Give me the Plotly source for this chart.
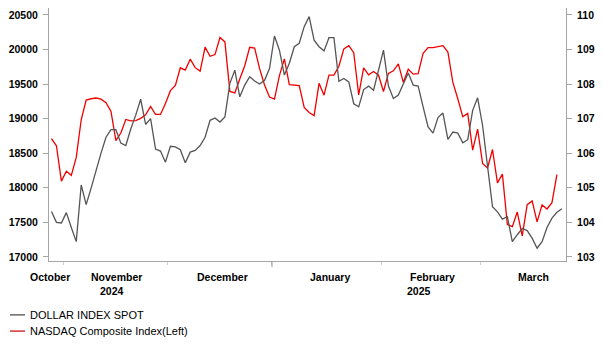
import plotly.graph_objects as go

# ---------------- data ----------------
dates = [
    "2024-10-29", "2024-10-30", "2024-10-31",
    "2024-11-01", "2024-11-04", "2024-11-05", "2024-11-06", "2024-11-07", "2024-11-08",
    "2024-11-11", "2024-11-12", "2024-11-13", "2024-11-14", "2024-11-15",
    "2024-11-18", "2024-11-19", "2024-11-20", "2024-11-21", "2024-11-22",
    "2024-11-25", "2024-11-26", "2024-11-27", "2024-11-28", "2024-11-29",
    "2024-12-02", "2024-12-03", "2024-12-04", "2024-12-05", "2024-12-06",
    "2024-12-09", "2024-12-10", "2024-12-11", "2024-12-12", "2024-12-13",
    "2024-12-16", "2024-12-17", "2024-12-18", "2024-12-19", "2024-12-20",
    "2024-12-23", "2024-12-24", "2024-12-26", "2024-12-27",
    "2024-12-30", "2024-12-31", "2025-01-02", "2025-01-03",
    "2025-01-06", "2025-01-07", "2025-01-08", "2025-01-09", "2025-01-10",
    "2025-01-13", "2025-01-14", "2025-01-15", "2025-01-16", "2025-01-17",
    "2025-01-20", "2025-01-21", "2025-01-22", "2025-01-23", "2025-01-24",
    "2025-01-27", "2025-01-28", "2025-01-29", "2025-01-30", "2025-01-31",
    "2025-02-03", "2025-02-04", "2025-02-05", "2025-02-06", "2025-02-07",
    "2025-02-10", "2025-02-11", "2025-02-12", "2025-02-13", "2025-02-14",
    "2025-02-17", "2025-02-18", "2025-02-19", "2025-02-20", "2025-02-21",
    "2025-02-24", "2025-02-25", "2025-02-26", "2025-02-27", "2025-02-28",
    "2025-03-03", "2025-03-04", "2025-03-05", "2025-03-06", "2025-03-07",
    "2025-03-10", "2025-03-11", "2025-03-12", "2025-03-13", "2025-03-14",
    "2025-03-17", "2025-03-18", "2025-03-19", "2025-03-20", "2025-03-21",
    "2025-03-24", "2025-03-25",
]

nasdaq = [
    18712, 18607, 18095,
    18239, 18179, 18439, 18983, 19269, 19287,
    19298, 19281, 19231, 19107, 18680,
    18792, 18988, 18967, 18972, 19004,
    19054, 19175, 19060, 19060, 19218,
    19404, 19481, 19735, 19701, 19860,
    19737, 19687, 20034, 19902, 19926,
    20173, 20109, 19393, 19372, 19573,
    19764, 20031, 20020, 19722,
    19487, 19311, 19281, 19622,
    19865, 19490, 19479, 19479, 19162,
    19088, 19044, 19511, 19339, 19630,
    19630, 19757, 20009, 20054, 19954,
    19342, 19734, 19632, 19681, 19627,
    19392, 19654, 19692, 19791, 19523,
    19714, 19643, 19649, 19946, 20027,
    20027, 20041, 20056, 19962, 19524,
    19287, 19026, 19075, 18544, 18847,
    18350, 18285, 18553, 18070, 18196,
    17468, 17437, 17648, 17303, 17754,
    17809, 17505, 17751, 17692, 17784,
    18189, None,
]

dollar_index = [
    104.31, 104.00, 103.98,
    104.28, 103.85, 103.44, 105.08, 104.51, 104.99,
    105.52, 106.00, 106.46, 106.68, 106.68,
    106.29, 106.22, 106.70, 107.10, 107.56,
    106.83, 107.00, 106.12, 106.06, 105.74,
    106.20, 106.18, 106.10, 105.72, 106.03,
    106.08, 106.22, 106.46, 106.95, 107.02,
    106.90, 107.05, 108.02, 108.40, 107.63,
    107.97, 108.21, 108.09, 108.00,
    108.11, 108.45, 109.39, 108.98,
    108.26, 108.60, 109.08, 109.18, 109.66,
    109.95, 109.27, 109.08, 108.96, 109.34,
    109.34, 108.08, 108.16, 108.06, 107.43,
    107.34, 107.84, 107.94, 107.82, 108.37,
    108.98, 107.94, 107.58, 107.68, 108.02,
    108.32, 107.97, 107.94, 107.34, 106.76,
    106.58, 107.03, 107.16, 106.40, 106.61,
    106.58, 106.30, 106.39, 107.24, 107.60,
    106.80, 105.70, 104.45, 104.30, 104.09,
    104.16, 103.44, 103.64, 103.82, 103.76,
    103.54, 103.25, 103.44, 103.85, 104.12,
    104.29, 104.39,
]

left_ticks = [17000, 17500, 18000, 18500, 19000, 19500, 20000, 20500]
right_ticks = [103, 104, 105, 106, 107, 108, 109, 110]

month_names = ["October", "November", "December", "January", "February", "March"]
month_label_pos = ["2024-10-28 16:00", "2024-11-15 05:00", "2024-12-16 14:00",
                   "2025-01-17 05:00", "2025-02-14 19:00", "2025-03-17 05:00"]
year_names = ["2024", "2025"]
year_label_pos = ["2024-11-14 05:00", "2025-02-12 05:00"]
month_bounds = ["2024-10-31 12:00", "2024-11-29 12:00", "2024-12-31 12:00",
                "2025-01-31 12:00", "2025-02-28 12:00"]
year_bound = "2024-12-31 12:00"

series_names = ["DOLLAR INDEX SPOT", "NASDAQ Composite Index(Left)"]

# ---------------- style ----------------
RED = "#f20000"
GRAY = "#555555"
AXIS = "#a6a6a6"
FONT = "Arial, Liberation Sans, sans-serif"

fig = go.Figure()
fig.add_trace(go.Scatter(x=dates, y=dollar_index, name=series_names[0], mode="lines",
                         line=dict(color=GRAY, width=1.3), yaxis="y2"))
fig.add_trace(go.Scatter(x=dates, y=nasdaq, name=series_names[1], mode="lines",
                         line=dict(color=RED, width=1.3), yaxis="y", connectgaps=False))

tick_font = dict(family=FONT, size=10.5, color="#000000", weight="bold")

fig.update_layout(
    width=603, height=352,
    margin=dict(l=49, r=37, t=8, b=91),
    plot_bgcolor="white", paper_bgcolor="white",
    showlegend=False,
    xaxis=dict(
        type="date",
        range=["2024-10-28 12:00", "2025-03-25 20:00"],
        rangebreaks=[dict(bounds=["sat", "mon"]),
                     dict(values=["2024-12-25", "2025-01-01"])],
        tickmode="array", tickvals=month_bounds, ticktext=[""] * len(month_bounds),
        ticks="outside", ticklen=3, tickcolor="#cfcfcf", tickwidth=1,
        showline=True, linecolor=AXIS, linewidth=1,
        showgrid=False, zeroline=False,
    ),
    yaxis=dict(
        range=[16940, 20600], tickmode="array", tickvals=left_ticks,
        ticktext=[str(v) for v in left_ticks],
        ticks="outside", ticklen=5, tickcolor=AXIS,
        showline=True, linecolor=AXIS, linewidth=1,
        showgrid=False, zeroline=False, tickfont=tick_font,
        ticklabelstandoff=3,
    ),
    yaxis2=dict(
        range=[102.88, 110.2], overlaying="y", side="right",
        tickmode="array", tickvals=right_ticks,
        ticktext=[str(v) for v in right_ticks],
        ticks="outside", ticklen=5, tickcolor=AXIS,
        showline=True, linecolor=AXIS, linewidth=1,
        showgrid=False, zeroline=False, tickfont=tick_font,
        ticklabelstandoff=3,
    ),
)

annotations = []
for name, pos in zip(month_names, month_label_pos):
    annotations.append(dict(x=pos, y=-0.063, xref="x", yref="paper", text=name,
                            showarrow=False, xanchor="center", yanchor="middle",
                            font=dict(family=FONT, size=10.5, color="#000", weight="bold")))
for name, pos in zip(year_names, year_label_pos):
    annotations.append(dict(x=pos, y=-0.119, xref="x", yref="paper", text=name,
                            showarrow=False, xanchor="center", yanchor="middle",
                            font=dict(family=FONT, size=10.5, color="#000", weight="bold")))

# custom legend (short line swatches as in the reference)
legend_y = [-0.213, -0.277]
legend_colors = ["#404040", "#cc0000"]
shapes = [dict(type="line", xref="x", yref="paper", x0=year_bound, x1=year_bound,
               y0=0, y1=-0.024, line=dict(color="#999999", width=1))]
for name, yy, col in zip(series_names, legend_y, legend_colors):
    shapes.append(dict(type="line", xref="paper", yref="paper", x0=-0.0754, x1=-0.0464,
                       y0=yy, y1=yy, line=dict(color=col, width=1.2)))
    annotations.append(dict(x=-0.0406, y=yy, xref="paper", yref="paper", text=name,
                            showarrow=False, xanchor="left", yanchor="middle",
                            font=dict(family=FONT, size=11, color="#000")))

fig.update_layout(annotations=annotations, shapes=shapes)

fig.write_html("out.html")
